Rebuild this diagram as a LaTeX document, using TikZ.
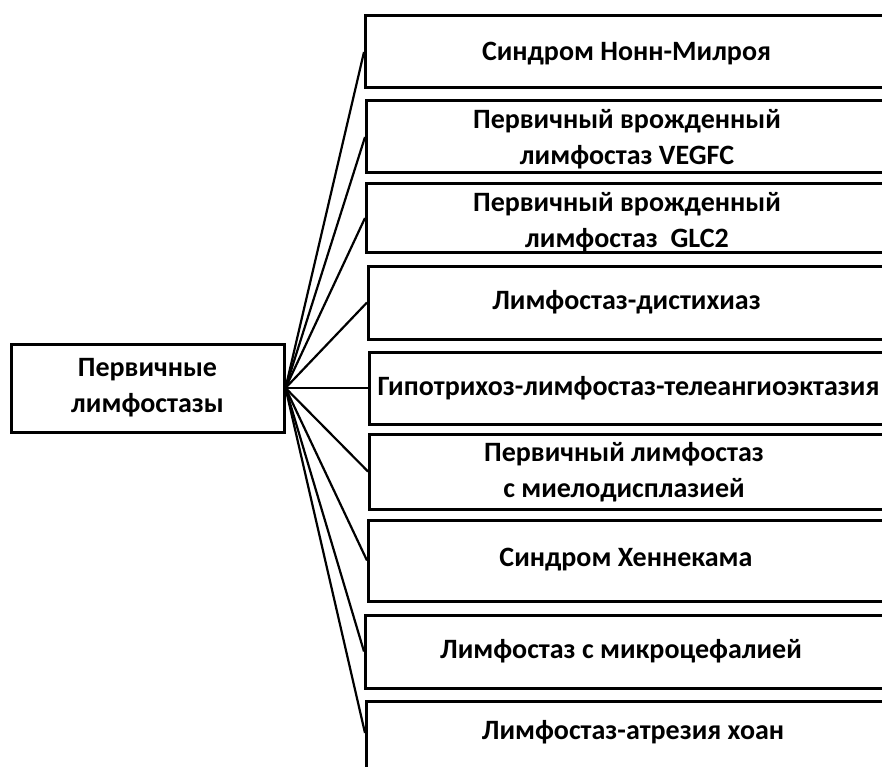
\documentclass[tikz,border=0pt]{standalone}
\usepackage{fontspec}
\setmainfont{Carlito}
\usepackage{tikz}

\begin{document}
\begin{tikzpicture}[x=1pt,y=-1pt,
    box/.style={draw,line width=3pt,rectangle,inner sep=0pt,anchor=west,minimum width=560pt},
    txt/.style={align=center,font=\fontsize{28}{36}\selectfont\bfseries},
    link/.style={line width=2.2pt}]
    \useasboundingbox (0,0) rectangle (882,767);
    \clip (0,0) rectangle (882,767);
    \node[draw,line width=3pt,minimum width=273pt,minimum height=88pt,txt] (root) at (147.5,388) {Первичные\\лимфостазы};
    \node[box,minimum height=72pt] (b1) at (364,52) {};
    \node[box,minimum height=72pt] (b2) at (365,137) {};
    \node[box,minimum height=68pt] (b3) at (365,218) {};
    \node[box,minimum height=73pt] (b4) at (367,302.5) {};
    \node[box,minimum height=72pt] (b5) at (368,388) {};
    \node[box,minimum height=75pt] (b6) at (368,471.5) {};
    \node[box,minimum height=81pt] (b7) at (367,560.5) {};
    \node[box,minimum height=73pt] (b8) at (364,651.5) {};
    \node[box,anchor=north west,minimum height=90pt] (b9) at (365,700) {};
    \node[txt] (t1) at (626.5,54) {Синдром Нонн-Милроя};
    \node[txt] (t2) at (627,139) {Первичный врожденный\\лимфостаз VEGFC};
    \node[txt] (t3) at (627,222) {Первичный врожденный\\лимфостаз~~GLC2};
    \node[txt] (t4) at (626.5,302) {Лимфостаз-дистихиаз};
    \node[txt] (t5) at (628.5,388) {Гипотрихоз-лимфостаз-телеангиоэктазия};
    \node[txt] (t6) at (624,472) {Первичный лимфостаз\\с миелодисплазией};
    \node[txt] (t7) at (626,560) {Синдром Хеннекама};
    \node[txt] (t8) at (621,651) {Лимфостаз с микроцефалией};
    \node[txt] (t9) at (633,732) {Лимфостаз-атрезия хоан};
    \draw[link] (root.east) -- (b1.west);
    \draw[link] (root.east) -- (b2.west);
    \draw[link] (root.east) -- (b3.west);
    \draw[link] (root.east) -- (b4.west);
    \draw[link] (root.east) -- (b5.west);
    \draw[link] (root.east) -- (b6.west);
    \draw[link] (root.east) -- (b7.west);
    \draw[link] (root.east) -- (b8.west);
    \draw[link] (root.east) -- ([yshift=-33pt]b9.north west);
\end{tikzpicture}
\end{document}
